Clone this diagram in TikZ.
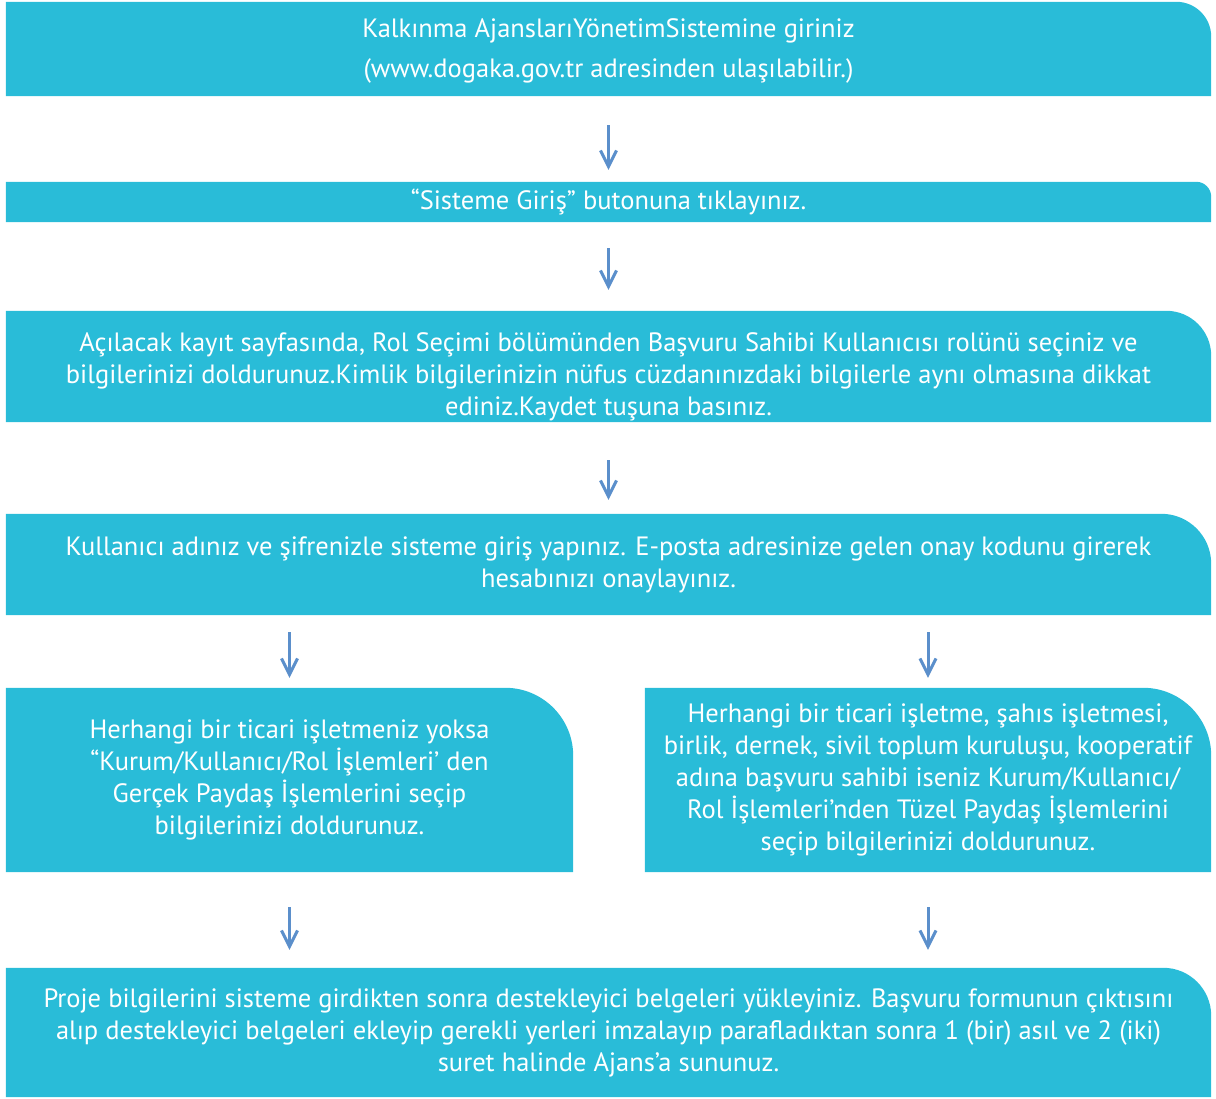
\documentclass[tikz,border=0pt]{standalone}
\usepackage{fontspec}
\setmainfont{PT Sans}
\usetikzlibrary{arrows.meta,backgrounds}
\definecolor{boxc}{HTML}{29BCD8}
\definecolor{arrc}{HTML}{5B8FCB}
\tikzset{
  box/.style={inner sep=0pt, align=center, text=white, font=\fontsize{26.5}{32}\selectfont},
  arr/.style={draw=arrc, line width=3pt, -{Straight Barb[length=16pt,width=16pt,line width=3pt]}}
}
\newcommand{\shapebox}[2]{%
  \fill[boxc] (#1.south west) -- (#1.north west) -- ([xshift=-#2pt]#1.north east)
    arc[start angle=90,end angle=0,radius=#2pt] -- (#1.south east) -- cycle;}
\begin{document}
\begin{tikzpicture}[x=1pt,y=1pt]
\useasboundingbox (0,0) rectangle (1216,1099);
\node[box, minimum width=1205pt, minimum height=94pt] (b1) at (608.5,1050) {};
\node[box, font=\fontsize{26.5}{40}\selectfont] (b1t) at ([yshift=-2pt]b1.center)
  {Kalkınma AjanslarıYönetimSistemine giriniz\\(www.dogaka.gov.tr adresinden ulaşılabilir.)};
\node[box, minimum width=1205pt, minimum height=40pt] (b2) at (608.5,897)
  {“Sisteme Giriş” butonuna tıklayınız.};
\node[box, minimum width=1205pt, minimum height=111pt] (b3) at (608.5,732.5) {};
\node[box] (b3t) at ([yshift=-10pt]b3.center)
  {Açılacak kayıt sayfasında, Rol Seçimi bölümünden Başvuru Sahibi Kullanıcısı rolünü seçiniz ve\\bilgilerinizi doldurunuz.Kimlik bilgilerinizin nüfus cüzdanınızdaki bilgilerle aynı olmasına dikkat\\ediniz.Kaydet tuşuna basınız.};
\node[box, minimum width=1205pt, minimum height=101pt] (b4) at (608.5,534.5)
  {Kullanıcı adınız ve şifrenizle sisteme giriş yapınız. E-posta adresinize gelen onay kodunu girerek\\hesabınızı onaylayınız.};
\node[box, minimum width=567pt, minimum height=184pt] (b5) at (289.5,319)
  {Herhangi bir ticari işletmeniz yoksa\\“Kurum/Kullanıcı/Rol İşlemleri’ den\\Gerçek Paydaş İşlemlerini seçip\\bilgilerinizi doldurunuz.};
\node[box, minimum width=566pt, minimum height=184pt] (b6) at (928,319)
  {Herhangi bir ticari işletme, şahıs işletmesi,\\birlik, dernek, sivil toplum kuruluşu, kooperatif\\adına başvuru sahibi iseniz Kurum/Kullanıcı/\\Rol İşlemleri’nden Tüzel Paydaş İşlemlerini\\seçip bilgilerinizi doldurunuz.};
\node[box, minimum width=1205pt, minimum height=129pt] (b7) at (608.5,66.5)
  {Proje bilgilerini sisteme girdikten sonra destekleyici belgeleri yükleyiniz. Başvuru formunun çıktısını\\alıp destekleyici belgeleri ekleyip gerekli yerleri imzalayıp parafladıktan sonra 1 (bir) asıl ve 2 (iki)\\suret halinde Ajans’a sununuz.};
\begin{pgfonlayer}{background}
\shapebox{b1}{35}
\shapebox{b2}{15}
\shapebox{b3}{45}
\shapebox{b4}{50}
\shapebox{b5}{68}
\shapebox{b6}{68}
\shapebox{b7}{48}
\end{pgfonlayer}
\draw[arr, shorten <=29pt, shorten >=12pt] (b1.south) -- (b2.north);
\draw[arr, shorten <=26pt, shorten >=21pt] (b2.south) -- (b3.north);
\draw[arr, shorten <=38pt, shorten >=14pt] (b3.south) -- (b4.north);
\draw[arr, shorten <=17pt, shorten >=10pt] (b4.south -| b5.north) -- (b5.north);
\draw[arr, shorten <=17pt, shorten >=10pt] (b4.south -| b6.north) -- (b6.north);
\draw[arr, shorten <=35pt, shorten >=18pt] (b5.south) -- (b7.north -| b5.south);
\draw[arr, shorten <=35pt, shorten >=18pt] (b6.south) -- (b7.north -| b6.south);
\end{tikzpicture}
\end{document}
